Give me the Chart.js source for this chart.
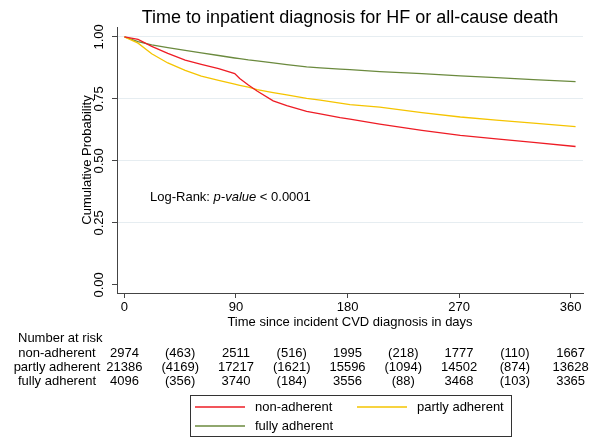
<!DOCTYPE html>
<html><head><meta charset="utf-8">
<script src="https://cdn.jsdelivr.net/npm/chart.js@4"></script>
<style>html,body{margin:0;padding:0;background:#fff;} canvas{display:block;}</style>
</head><body>
<canvas id="c" width="595" height="438"></canvas>
<script>
// ---- data ----
const days = [0, 11, 22, 35, 49, 62, 76, 89, 93, 100, 107, 120, 131, 147, 158, 174, 182, 206, 240, 271, 300, 330, 364];
const nonAdherent    = [1.0, 0.99, 0.962, 0.934, 0.906, 0.889, 0.872, 0.852, 0.832, 0.806, 0.782, 0.742, 0.723, 0.700, 0.690, 0.674, 0.668, 0.648, 0.623, 0.603, 0.589, 0.575, 0.558];
const partlyAdherent = [1.0, 0.975, 0.932, 0.895, 0.865, 0.842, 0.825, 0.810, 0.805, 0.797, 0.787, 0.775, 0.766, 0.752, 0.745, 0.733, 0.727, 0.717, 0.695, 0.677, 0.664, 0.652, 0.638];
const fullyAdherent  = [1.0, 0.981, 0.968, 0.957, 0.946, 0.936, 0.925, 0.915, 0.912, 0.907, 0.903, 0.895, 0.888, 0.879, 0.875, 0.870, 0.868, 0.860, 0.852, 0.843, 0.836, 0.828, 0.820];
const seriesLabels = ['non-adherent', 'partly adherent', 'fully adherent'];
const xTicks = [0, 90, 180, 270, 360];
const yTicks = [0, 0.25, 0.5, 0.75, 1];
const riskDays = [0, 45, 90, 135, 180, 225, 270, 315, 360];
const riskNon    = ['2974', '(463)', '2511', '(516)', '1995', '(218)', '1777', '(110)', '1667'];
const riskPartly = ['21386', '(4169)', '17217', '(1621)', '15596', '(1094)', '14502', '(874)', '13628'];
const riskFully  = ['4096', '(356)', '3740', '(184)', '3556', '(88)', '3468', '(103)', '3365'];
const titleText = 'Time to inpatient diagnosis for HF or all-cause death';
const xTitle = 'Time since incident CVD diagnosis in days';
const yTitle = 'Cumulative Probability';

// ---- styles ----
const FONT = '"Liberation Sans", Arial, Helvetica, sans-serif';
const colors = ['#ee1c25', '#f5c400', '#6b8a3e'];
const seriesValues = [nonAdherent, partlyAdherent, fullyAdherent];
const riskRows = [riskNon, riskPartly, riskFully];

const extras = {
  id: 'extras',
  afterDraw(chart) {
    const ctx = chart.ctx;
    const xs = chart.scales.x;
    ctx.save();
    ctx.fillStyle = '#000';
    ctx.textBaseline = 'middle';
    // Log-rank annotation
    const x0 = 150, yAnn = 197;
    ctx.font = '13px ' + FONT;
    ctx.textAlign = 'left';
    let t1 = 'Log-Rank: ';
    ctx.fillText(t1, x0, yAnn);
    let w = ctx.measureText(t1).width;
    ctx.font = 'italic 13px ' + FONT;
    ctx.fillText('p-value', x0 + w, yAnn);
    w += ctx.measureText('p-value').width;
    ctx.font = '13px ' + FONT;
    ctx.fillText(' < 0.0001', x0 + w, yAnn);

    // Number at risk table
    ctx.font = '13px ' + FONT;
    ctx.textAlign = 'left';
    ctx.fillText('Number at risk', 18, 338);
    riskRows.forEach((row, i) => {
      const y = 353 + i * 14.3;
      ctx.textAlign = 'center';
      ctx.fillText(seriesLabels[i], 57, y);
      row.forEach((v, j) => {
        ctx.fillText(v, xs.getPixelForValue(riskDays[j]), y);
      });
    });

    // Legend box
    ctx.strokeStyle = '#333';
    ctx.lineWidth = 1;
    ctx.strokeRect(190.5, 395.5, 321, 41);
    const items = [[195, 407], [357, 407], [195, 426]];
    items.forEach((p, i) => {
      ctx.strokeStyle = chart.data.datasets[i].borderColor;
      ctx.lineWidth = 1.3;
      ctx.beginPath();
      ctx.moveTo(p[0], p[1]);
      ctx.lineTo(p[0] + 50, p[1]);
      ctx.stroke();
      ctx.textAlign = 'left';
      ctx.fillStyle = '#000';
      ctx.fillText(chart.data.datasets[i].label, p[0] + 60, p[1]);
    });
    ctx.restore();
  }
};

new Chart(document.getElementById('c'), {
  type: 'line',
  data: {
    datasets: seriesLabels.map((lab, i) => ({
      label: lab,
      data: days.map((d, k) => ({ x: d, y: seriesValues[i][k] })),
      borderColor: colors[i],
      borderWidth: 1.3,
      pointRadius: 0,
      tension: 0,
      fill: false
    }))
  },
  options: {
    responsive: false,
    animation: false,
    devicePixelRatio: 1,
    layout: { padding: { top: 0, left: 0, right: 12, bottom: 108 } },
    plugins: {
      legend: { display: false },
      tooltip: { enabled: false },
      title: {
        display: true, text: titleText, fullSize: false, color: '#000',
        font: { family: FONT, size: 18, weight: 'normal', lineHeight: 1 },
        padding: { top: 9, bottom: 0 }
      }
    },
    scales: {
      x: {
        type: 'linear', min: -6, max: 370,
        afterBuildTicks: s => { s.ticks = xTicks.map(v => ({ value: v })); },
        afterFit: s => { s.height = 37; },
        ticks: { color: '#000', font: { family: FONT, size: 13 }, padding: 2, maxRotation: 0 },
        grid: { drawOnChartArea: false, drawTicks: true, tickLength: 5, tickColor: '#444' },
        border: { color: '#444', width: 1 },
        title: { display: true, text: xTitle, color: '#000', font: { family: FONT, size: 13, lineHeight: 1.2 }, padding: { top: 0, bottom: 0 } }
      },
      y: {
        type: 'linear', min: -0.033, max: 1.04,
        afterBuildTicks: s => { s.ticks = yTicks.map(v => ({ value: v })); },
        afterFit: s => { s.width = 117; },
        ticks: { color: '#000', font: { family: FONT, size: 13 }, padding: 0, minRotation: 90, maxRotation: 90, crossAlign: 'center', callback: v => Number(v).toFixed(2) },
        grid: { drawTicks: true, tickLength: 5, tickColor: '#444', color: ctx => (ctx.tick && ctx.tick.value === 0) ? 'rgba(0,0,0,0)' : '#e6edf1', lineWidth: 1 },
        border: { color: '#444', width: 1 },
        title: { display: true, text: yTitle, color: '#000', font: { family: FONT, size: 13, lineHeight: 1.2 }, padding: { top: 80, bottom: 0 } }
      }
    }
  },
  plugins: [extras]
});
</script>
</body></html>
